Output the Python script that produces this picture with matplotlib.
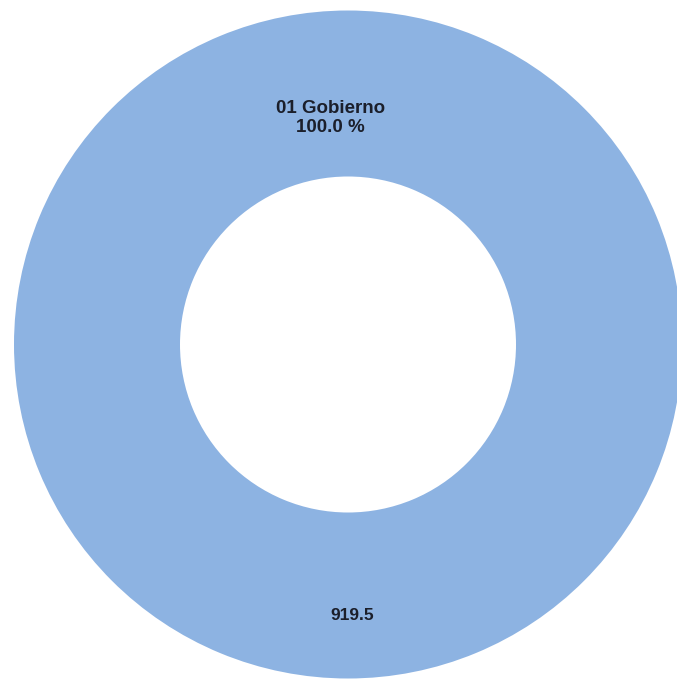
import matplotlib
matplotlib.use("Agg")
import matplotlib.pyplot as plt

categories = ["01 Gobierno"]
values = [919.5]
colors = ["#8DB3E2"]

total = sum(values)
W, H = 677, 681
fig = plt.figure(figsize=(W / 100, H / 100), dpi=100)
cx, cy, r = 348, 681 - 344.5, 334
ax = fig.add_axes([(cx - r) / W, (cy - r) / H, 2 * r / W, 2 * r / H])
ax.pie(values, colors=colors, radius=1, startangle=90, counterclock=False,
       wedgeprops=dict(width=0.497, edgecolor="none"))
ax.set_xlim(-1, 1)
ax.set_ylim(-1, 1)
ax.set_aspect("auto")
ax.axis("off")

txt_kw = dict(ha="center", va="center", fontweight="bold",
              family=["Liberation Sans", "DejaVu Sans"], color="#1b1f2b")
for cat, v in zip(categories, values):
    ax.text(-0.053, 0.678, f"{cat}\n{100 * v / total:.1f} %", linespacing=1.12,
            fontsize=13.5, **txt_kw)
    ax.text(0.012, -0.81, f"{v:.1f}", fontsize=12.5, **txt_kw)

fig.savefig("out.png", dpi=100)
